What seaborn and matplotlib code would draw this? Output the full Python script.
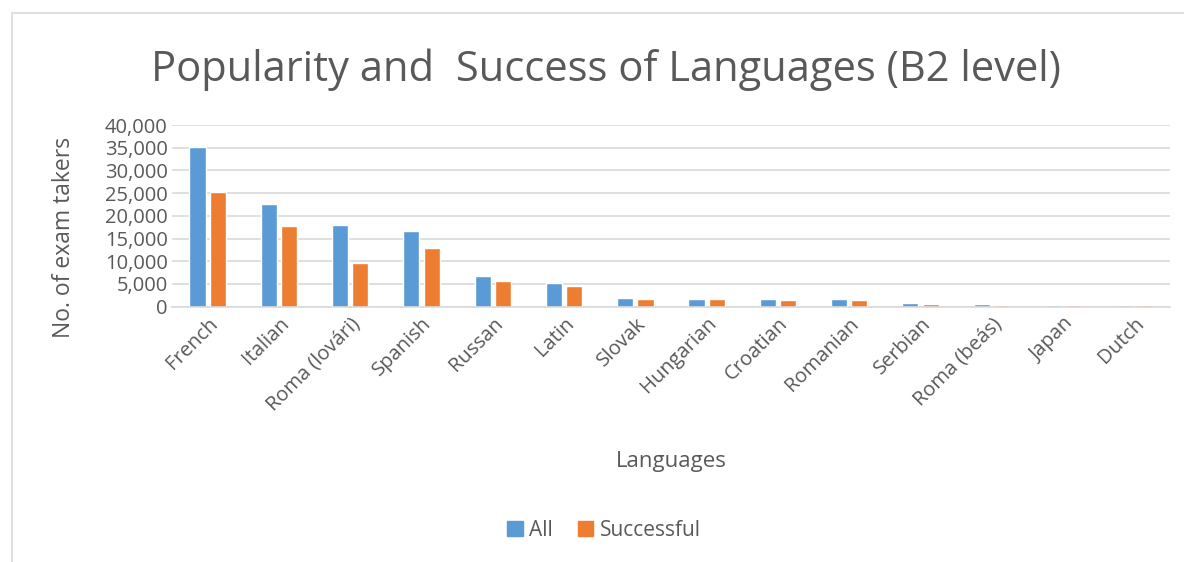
import matplotlib
matplotlib.use("Agg")
import matplotlib.pyplot as plt
import seaborn as sns
import pandas as pd
from matplotlib.patches import Rectangle
from matplotlib.ticker import FuncFormatter

languages = ["French", "Italian", "Roma (lovári)", "Spanish", "Russan", "Latin", "Slovak",
             "Hungarian", "Croatian", "Romanian", "Serbian", "Roma (beás)", "Japan", "Dutch"]
all_takers = [35200, 22500, 18000, 16700, 6800, 5300, 1900, 1750, 1700, 1700, 880, 590, 440, 400]
successful = [25300, 17700, 9700, 13000, 5600, 4500, 1700, 1600, 1470, 1550, 700, 300, 400, 380]
series_names = ["All", "Successful"]
colors = ["#5B9BD5", "#ED7D31"]

df = pd.DataFrame({
    "Language": languages * 2,
    "Value": all_takers + successful,
    "Series": [series_names[0]] * len(languages) + [series_names[1]] * len(languages),
})

sns.set_theme(style="white")
plt.rcParams['font.family'] = ['Open Sans', 'DejaVu Sans']
txt = "#595959"

fig = plt.figure(figsize=(11.84, 5.62), dpi=100)
ax = fig.add_axes([172 / 1184, 1 - 306.7 / 562, (1170 - 172) / 1184, (306.7 - 125) / 562])

sns.barplot(data=df, x="Language", y="Value", hue="Series", palette=colors,
            width=0.57, gap=0.2, ax=ax, legend=False, saturation=1)

ax.set_ylim(0, 40000)
ax.set_xlim(-0.5, len(languages) - 0.5)
ax.set_yticks(range(0, 40001, 5000))
ax.yaxis.set_major_formatter(FuncFormatter(lambda v, p: f"{int(v):,}"))
ax.grid(axis="y", color="#D9D9D9", linewidth=1.2)
ax.set_axisbelow(True)
for s in ["top", "right", "left"]:
    ax.spines[s].set_visible(False)
ax.spines["bottom"].set_color("#D9D9D9")
ax.spines["bottom"].set_linewidth(1.2)
ax.tick_params(axis="y", length=0, labelsize=14.5, colors=txt, pad=3)
ax.tick_params(axis="x", length=0, labelsize=14.5, colors=txt, pad=5)
ax.set_xticks(range(len(languages)))
ax.set_xticklabels(languages, rotation=45, ha="right", rotation_mode="anchor")
ax.set_xlabel("Languages", fontsize=16, color=txt, labelpad=26)
ax.set_ylabel("No. of exam takers", fontsize=16.5, color=txt)
ax.yaxis.set_label_coords((76 - 172) / 998, (306.7 - 237) / 181.7)

fig.text(0.512, 1 - 70 / 562, "Popularity and  Success of Languages (B2 level)",
         ha="center", va="center", fontsize=30, color=txt)

handles = [Rectangle((0, 0), 1, 1, color=c) for c in colors]
fig.legend(handles, series_names, loc="center", bbox_to_anchor=(0.51, 1 - 530 / 562),
           ncol=2, frameon=False, fontsize=15, handlelength=0.75, handleheight=0.75,
           handletextpad=0.3, columnspacing=1.2, labelcolor=txt)

fig.patches.append(Rectangle((12 / 1184, -0.01), 1.1, 1 - 13 / 562 + 0.01,
                             transform=fig.transFigure, fill=False,
                             edgecolor="#D9D9D9", linewidth=1.2))

fig.savefig("out.png", dpi=100)
